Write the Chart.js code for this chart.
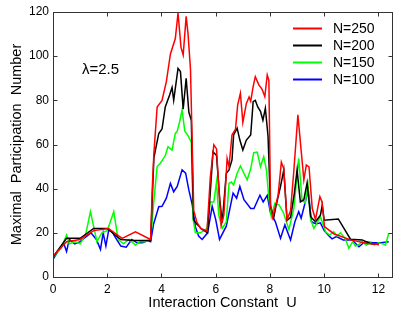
<!DOCTYPE html>
<html>
<head>
<meta charset="utf-8">
<script src="https://cdn.jsdelivr.net/npm/chart.js@4.4.0/dist/chart.umd.min.js"></script>
<style>
  html, body { margin: 0; padding: 0; background: #fff; }
  #wrap { width: 415px; height: 316px; }
</style>
</head>
<body>
<div id="wrap"><canvas id="mpnChart" width="415" height="316"></canvas></div>
<script>
// N=250
var u250 = [0, 0.5, 1.0, 1.5, 2.05, 2.55, 3.04, 3.6, 3.66, 3.72, 3.84, 4.02, 4.18, 4.33, 4.51, 4.61, 4.72, 4.80, 4.91, 4.98,
  5.07, 5.19, 5.3, 5.44, 5.68, 5.8, 5.93, 6.03, 6.11, 6.20, 6.30, 6.42, 6.49, 6.60, 6.73, 6.81, 6.91, 7.0, 7.13, 7.23,
  7.29, 7.38, 7.46, 7.59, 7.71, 7.81, 7.90, 7.96, 8.02, 8.1, 8.2, 8.3, 8.42, 8.51, 8.63, 8.76, 8.88, 9.03, 9.16, 9.25,
  9.34, 9.44, 9.56, 9.68, 9.84, 9.92, 10.01, 10.35, 10.97, 11.59, 12.02];
var mpn250 = [9.5, 16, 17, 21, 22, 17.5, 20.5, 17, 40, 56, 77, 80, 88.5, 101, 108, 119.5, 104, 100.5, 118, 110,
  94, 30, 25, 22, 20.8, 45, 59.8, 58, 41, 23.5, 28, 53.7, 50, 64.3, 67, 78, 83.2, 70, 78.6, 81.5,
  79.6, 86.2, 90.7, 87, 85, 81.7, 91.5, 89, 33, 27, 32, 37, 52, 49, 26, 30, 48, 73.4, 56, 44,
  50.7, 49.9, 31, 26, 36.4, 34, 22.8, 19.6, 16.8, 15.2, 14.7];

// N=200
var u200 = [0, 0.5, 1.0, 1.5, 2.0, 2.5, 3.0, 3.6, 3.66, 3.72, 3.9, 4.02, 4.14, 4.30, 4.39, 4.45, 4.61, 4.70, 4.80, 4.91,
  5.01, 5.10, 5.18, 5.3, 5.5, 5.7, 5.9, 6.03, 6.15, 6.24, 6.39, 6.49, 6.6, 6.66, 6.79, 6.89, 7.0, 7.13, 7.29, 7.38,
  7.46, 7.55, 7.65, 7.74, 7.83, 7.93, 8.02, 8.14, 8.22, 8.39, 8.51, 8.63, 8.76, 8.9, 9.0, 9.12, 9.25, 9.37, 9.5, 9.68,
  9.86, 9.93, 10.0, 10.52, 10.97, 11.4, 11.7, 12.02];
var mpn200 = [9, 17.5, 17.5, 22, 22, 17, 16.5, 16.5, 35, 54, 65, 67, 77, 82.4, 85.8, 80, 94.5, 93, 76, 90,
  74.6, 71, 26, 24, 21.5, 20, 56.7, 55, 35, 24.6, 47, 48.5, 53, 64.3, 67.4, 62, 57.5, 62, 64.3, 79.4,
  80, 77, 75, 71, 76.4, 63.6, 32, 27, 32, 41, 48.5, 25.6, 27, 38, 48.5, 34, 35, 42.6, 27.3, 25,
  28, 32.6, 25.7, 26.3, 17.1, 16.8, 15.2, 14.7];

// N=150
var u150 = [0, 0.3, 0.5, 0.6, 0.8, 1.0, 1.2, 1.38, 1.62, 1.8, 2.0, 2.24, 2.4, 2.6, 2.8, 3.04, 3.2, 3.4, 3.6, 3.7,
  3.84, 3.96, 4.14, 4.24, 4.39, 4.51, 4.58, 4.67, 4.76, 4.86, 4.98, 5.10, 5.17, 5.25, 5.44, 5.68, 5.80, 5.93, 6.03, 6.11,
  6.24, 6.39, 6.49, 6.58, 6.66, 6.79, 6.91, 7.04, 7.16, 7.29, 7.40, 7.53, 7.65, 7.77, 7.87, 7.96, 8.05, 8.18, 8.34, 8.50,
  8.70, 8.88, 9.06, 9.18, 9.3, 9.4, 9.5, 9.62, 9.74, 9.86, 10.05, 10.2, 10.35, 10.48, 10.6, 10.77, 10.91, 11.05, 11.15, 11.27,
  11.4, 11.55, 11.7, 11.85, 12.0, 12.15, 12.26, 12.38];
var mpn150 = [9, 13, 19, 15, 16, 15, 19, 29.6, 16, 20, 21, 29.6, 17, 15, 17, 14.5, 16, 16, 17, 32,
  50, 51.5, 55, 59, 57.5, 65, 66, 70.3, 75.6, 66, 64, 61, 26, 20, 20, 22, 34, 34, 43, 28,
  22, 25, 42.4, 43, 41.7, 47, 50.3, 47, 44, 49, 56.3, 56.6, 50, 54.5, 48.5, 35.7, 27.3, 33.4, 32.6, 29,
  21.5, 31, 53.7, 35, 33.4, 41.7, 26, 22, 24.6, 27.3, 20.5, 19, 20.5, 18.5, 20, 17.5, 13, 16, 14, 14.6,
  16, 14.5, 15.5, 14.5, 15.5, 15, 14.5, 19.8];

// N=100
var u100 = [0, 0.2, 0.4, 0.5, 0.6, 0.8, 1.0, 1.2, 1.4, 1.6, 1.75, 1.85, 1.95, 2.05, 2.12, 2.2, 2.3, 2.5, 2.7, 2.9,
  3.1, 3.3, 3.5, 3.6, 3.71, 3.90, 4.02, 4.18, 4.33, 4.45, 4.58, 4.76, 4.89, 5.01, 5.13, 5.25, 5.37, 5.5, 5.7, 5.87,
  6.0, 6.14, 6.39, 6.64, 6.77, 6.89, 7.04, 7.29, 7.41, 7.63, 7.75, 7.90, 8.02, 8.2, 8.39, 8.55, 8.76, 8.92, 9.06, 9.15,
  9.27, 9.41, 9.53, 9.7, 9.86, 10.0, 10.17, 10.29, 10.45, 10.7, 11.03, 11.28, 11.5, 11.8, 12.1, 12.38];
var mpn100 = [8, 12, 15, 11.5, 17, 15, 16, 18, 20, 17, 12.5, 20, 14, 21, 21, 20, 18, 14, 13.5, 17,
  15.5, 15.5, 16.5, 16, 24, 31.8, 32, 35.7, 42.4, 38.6, 41, 48.5, 47, 39.3, 33, 22.8, 18.5, 17, 20, 32,
  26, 17, 23, 38, 35.7, 41, 35, 31, 31, 37, 34, 37, 29, 25, 17.5, 23.6, 16.8, 25, 29.6, 26.6,
  32.4, 39.4, 25, 24, 24.5, 21, 18.7, 17.3, 18.3, 16.8, 16.8, 13.7, 16, 15.5, 15.5, 16];

var seriesLabels = ['N=250', 'N=200', 'N=150', 'N=100'];
var seriesColors = ['#ff0000', '#000000', '#00ff00', '#0000ff'];
var xTicks = [0, 2, 4, 6, 8, 10, 12];
var yTicks = [0, 20, 40, 60, 80, 100, 120];

var FONT = '"Liberation Sans", Arial, Helvetica, sans-serif';

function toPoints(xs, ys) {
    return xs.map(function (x, i) { return { x: x, y: ys[i] }; });
}

var allX = [u250, u200, u150, u100];
var allY = [mpn250, mpn200, mpn150, mpn100];

var datasets = seriesLabels.map(function (label, i) {
    return {
        label: label,
        data: toPoints(allX[i], allY[i]),
        borderColor: seriesColors[i],
        borderWidth: 1.5,
        pointRadius: 0,
        tension: 0,
        fill: false
    };
});

// box, inward ticks, legend and lambda note (matlab look)
var frame = {
    id: 'frame',
    afterDraw: function (chart) {
        var ctx = chart.ctx;
        var a = chart.chartArea;
        var xs = chart.scales.x, ys = chart.scales.y;
        var L = Math.round(a.left) + 0.5, R = Math.round(a.right) + 0.5;
        var T = Math.round(a.top) + 0.5, B = Math.round(a.bottom) + 0.5;
        ctx.save();
        ctx.strokeStyle = '#333';
        ctx.lineWidth = 1;
        ctx.strokeRect(L, T, R - L, B - T);
        ctx.beginPath();
        xTicks.forEach(function (v) {
            var p = Math.round(xs.getPixelForValue(v)) + 0.5;
            ctx.moveTo(p, B); ctx.lineTo(p, B - 4);
            ctx.moveTo(p, T); ctx.lineTo(p, T + 4);
        });
        yTicks.forEach(function (v) {
            var p = Math.round(ys.getPixelForValue(v)) + 0.5;
            ctx.moveTo(L, p); ctx.lineTo(L + 4, p);
            ctx.moveTo(R, p); ctx.lineTo(R - 4, p);
        });
        ctx.stroke();

        // legend
        ctx.font = '14px ' + FONT;
        ctx.textBaseline = 'middle';
        ctx.textAlign = 'left';
        ctx.fillStyle = '#000';
        seriesLabels.forEach(function (label, i) {
            var y = 28.5 + i * 17;
            ctx.strokeStyle = seriesColors[i];
            ctx.lineWidth = 2;
            ctx.beginPath();
            ctx.moveTo(293, y); ctx.lineTo(322, y);
            ctx.stroke();
            ctx.fillText(label, 333, y + 1);
        });

        ctx.font = '15px ' + FONT;
        ctx.fillText('\u03bb=2.5', 82, 70);
        ctx.restore();
    }
};

new Chart(document.getElementById('mpnChart').getContext('2d'), {
    type: 'line',
    data: { datasets: datasets },
    options: {
        responsive: false,
        animation: false,
        events: [],
        layout: { padding: { top: 12, right: 23, left: 0, bottom: 0 } },
        plugins: { legend: { display: false }, tooltip: { enabled: false } },
        scales: {
            x: {
                type: 'linear',
                min: 0,
                max: 12.5,
                grid: { display: false, drawTicks: false },
                border: { display: false },
                afterFit: function (s) { s.height = 39; },
                afterBuildTicks: function (s) { s.ticks = xTicks.map(function (v) { return { value: v }; }); },
                ticks: { font: { family: FONT, size: 12 }, color: '#000', padding: 5, maxRotation: 0 },
                title: { display: true, text: 'Interaction Constant  U', font: { family: FONT, size: 14.5 }, color: '#000', padding: { top: 0, bottom: 4 } }
            },
            y: {
                min: 0,
                max: 120,
                grid: { display: false, drawTicks: false },
                border: { display: false },
                afterFit: function (s) { s.width = 53; },
                afterBuildTicks: function (s) { s.ticks = yTicks.map(function (v) { return { value: v }; }); },
                ticks: { font: { family: FONT, size: 12 }, color: '#000', padding: 4 },
                title: { display: true, text: 'Maximal  Participation  Number', font: { family: FONT, size: 14.5 }, color: '#000', padding: { top: 8, bottom: 0 } }
            }
        }
    },
    plugins: [frame]
});
</script>
</body>
</html>
